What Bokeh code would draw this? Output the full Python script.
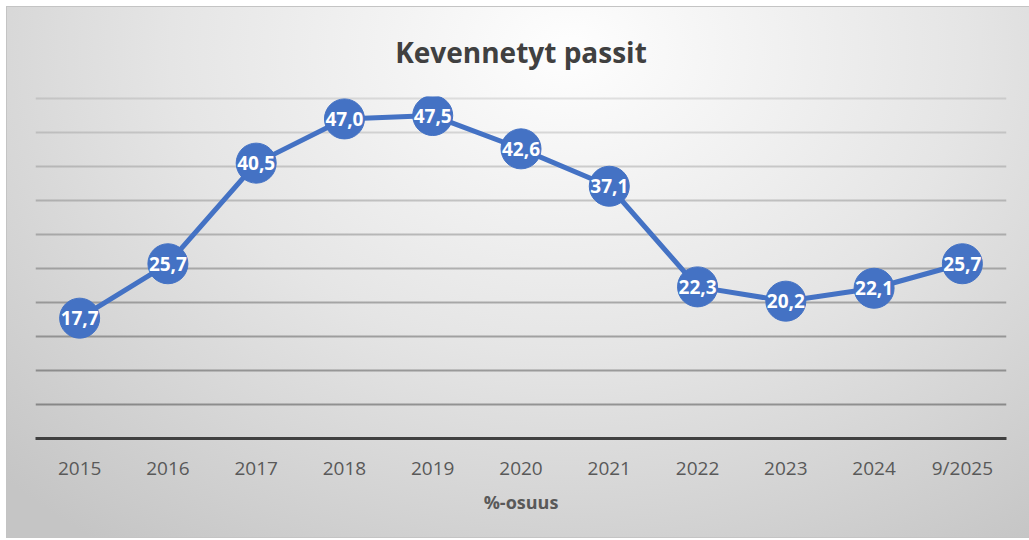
from bokeh.plotting import figure
from bokeh.models import Range1d, ColumnDataSource, LabelSet
from bokeh.core.properties import value
from bokeh.embed import file_html
from bokeh.resources import INLINE

categories = ["2015", "2016", "2017", "2018", "2019", "2020", "2021", "2022", "2023", "2024", "9/2025"]
values = [17.7, 25.7, 40.5, 47.0, 47.5, 42.6, 37.1, 22.3, 20.2, 22.1, 25.7]
labels = ["17,7", "25,7", "40,5", "47,0", "47,5", "42,6", "37,1", "22,3", "20,2", "22,1", "25,7"]
grid_ticks = [5, 10, 15, 20, 25, 30, 35, 40, 45, 50]
grid_alphas = [0.34, 0.32, 0.30, 0.28, 0.25, 0.22, 0.19, 0.16, 0.13, 0.10]

src = ColumnDataSource(dict(x=categories, y=values, t=labels))

p = figure(width=1029, height=540, x_range=categories, y_range=Range1d(0, 50.3),
           output_backend="svg", toolbar_location=None,
           min_border_left=35, min_border_right=23, min_border_top=96, min_border_bottom=102)

p.background_fill_alpha = 0
p.border_fill_alpha = 0
p.outline_line_color = None
p.styles = {
    "background": ("radial-gradient(ellipse 78% 115% at 55% 8%, #fefefe 0%, #e5e5e5 50%, #c5c5c5 100%) 7px 7px / 1022px 530px no-repeat, "
                   "linear-gradient(#c4c4c4, #c4c4c4) 6px 6px / 1023px 532px no-repeat, #ffffff")
}

p.title.text = "Kevennetyt passit"
p.title.align = "center"
p.title.text_font = "Open Sans"
p.title.text_font_size = "28px"
p.title.text_font_style = "bold"
p.title.text_color = "#404040"
p.title.standoff = 52

p.yaxis.visible = False
p.xgrid.visible = False
p.ygrid.visible = False

p.hspan(y=grid_ticks, line_color="#000000", line_alpha=grid_alphas, line_width=2)

ax = p.xaxis[0]
ax.axis_line_color = "#404040"
ax.axis_line_width = 3
ax.major_tick_line_color = None
ax.minor_tick_line_color = None
ax.major_tick_out = 0
ax.major_tick_in = 0
ax.major_label_text_font = "Open Sans"
ax.major_label_text_font_size = "19px"
ax.major_label_text_color = "#595959"
ax.major_label_standoff = 16
ax.axis_label = "%-osuus"
ax.axis_label_text_font = "Open Sans"
ax.axis_label_text_font_size = "18px"
ax.axis_label_text_font_style = "bold"
ax.axis_label_text_color = "#595959"
ax.axis_label_standoff = 6

p.line("x", "y", source=src, line_color="#4472C4", line_width=5)
p.scatter("x", "y", source=src, size=40, fill_color="#4472C4", line_color="#4472C4")
p.add_layout(LabelSet(x="x", y="y", text="t", source=src, text_align="center", text_baseline="middle",
                      text_color="white", text_font=value("Open Sans"), text_font_style="bold",
                      text_font_size="19px"))

open("out.html", "w").write(file_html(p, INLINE))
